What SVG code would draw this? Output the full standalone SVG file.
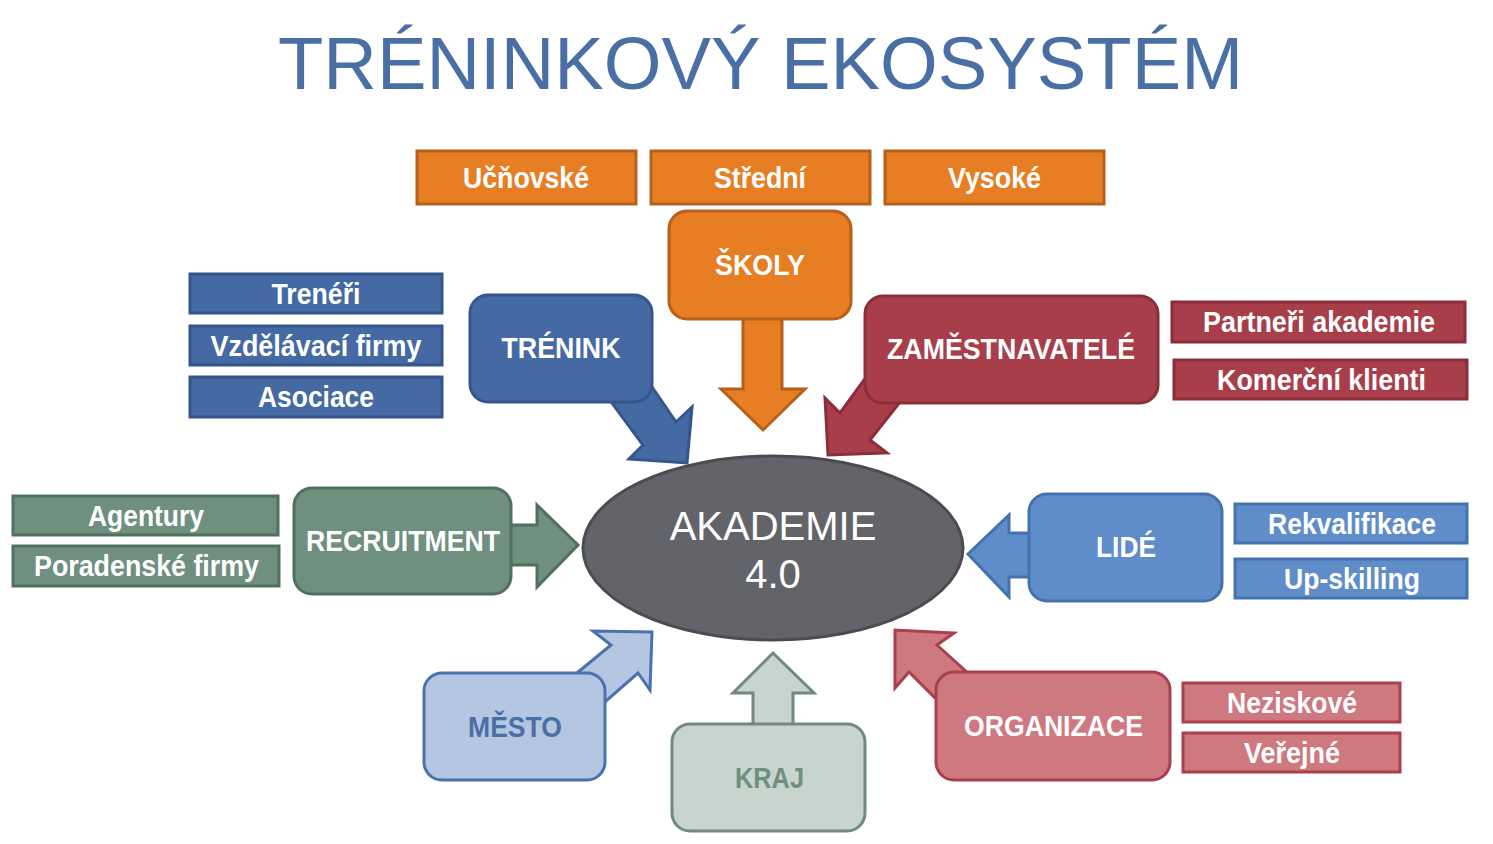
<svg xmlns="http://www.w3.org/2000/svg" width="1493" height="844" viewBox="0 0 1493 844">
<style>
.lbl{font-family:"Liberation Sans Narrow","Liberation Sans",Arial,sans-serif;font-weight:bold;font-size:29px;fill:#fff;text-anchor:middle}
.title{font-family:"Liberation Sans",Arial,sans-serif;font-size:74px;fill:#4A6FA5}
.big{font-family:"Liberation Sans",Arial,sans-serif;font-size:40px;fill:#fff;text-anchor:middle}
.or{fill:#E77E23;stroke:#B6601D;stroke-width:3}
.bl{fill:#4469A3;stroke:#34568A;stroke-width:3}
.rd{fill:#A73E4A;stroke:#8A2E39;stroke-width:3}
.gr{fill:#6F8F7F;stroke:#51705F;stroke-width:3}
.lb{fill:#5F8DC9;stroke:#4572AE;stroke-width:3}
.ms{fill:#B4C6E2;stroke:#4A72AC;stroke-width:3}
.kr{fill:#C8D5CF;stroke:#71897E;stroke-width:3}
.og{fill:#CE7880;stroke:#A8404D;stroke-width:3}
</style>
<text class="title" x="278" y="89" textLength="965" lengthAdjust="spacingAndGlyphs">TRÉNINKOVÝ EKOSYSTÉM</text>

<g id="connectors" stroke-linejoin="miter">
<polygon class="or" points="743,312 743,389 721,389 763,430 805,389 782,389 782,312"/>
<polygon class="bl" points="595,380 637,365 676,422 692,407 687,463 629,459 643,445"/>
<polygon class="rd" points="880,358 915,383 870,440 887,453 828,455 825,398 840,413"/>
<polygon class="gr" points="505,525 537,525 537,505 578,545 537,587 537,565 505,565"/>
<polygon class="lb" points="1035,533 1009,533 1009,515 968,554 1009,597 1009,577 1035,577"/>
<polygon class="ms" points="560,687 611,645 593,631 652,632 650,690 638,673 590,715"/>
<polygon class="kr" points="753,730 753,693 733,693 773,653 814,693 793,693 793,730"/>
<polygon class="og" points="950,713 909,672 895,688 895,630 954,633 937,645 980,684"/>
</g>

<g id="ucnovske"><rect class="or" x="417" y="151" width="219" height="53"/><text class="lbl" x="526" y="188" textLength="126" lengthAdjust="spacingAndGlyphs">Učňovské</text></g>
<g id="stredni"><rect class="or" x="651" y="151" width="219" height="53"/><text class="lbl" x="760" y="188" textLength="92" lengthAdjust="spacingAndGlyphs">Střední</text></g>
<g id="vysoke"><rect class="or" x="885" y="151" width="219" height="53"/><text class="lbl" x="994.5" y="188" textLength="93" lengthAdjust="spacingAndGlyphs">Vysoké</text></g>
<g id="skoly"><rect class="or" x="669" y="211" width="182" height="108" rx="18"/><text class="lbl" x="760" y="275" textLength="90" lengthAdjust="spacingAndGlyphs">ŠKOLY</text></g>

<g id="trenink"><rect class="bl" x="470" y="295" width="182" height="107" rx="18"/><text class="lbl" x="561" y="358" textLength="119" lengthAdjust="spacingAndGlyphs">TRÉNINK</text></g>
<g id="treneri"><rect class="bl" x="190" y="274" width="252" height="39"/><text class="lbl" x="316" y="304" textLength="89" lengthAdjust="spacingAndGlyphs">Trenéři</text></g>
<g id="vzdelavaci"><rect class="bl" x="190" y="326" width="252" height="39"/><text class="lbl" x="316" y="356" textLength="211" lengthAdjust="spacingAndGlyphs">Vzdělávací firmy</text></g>
<g id="asociace"><rect class="bl" x="190" y="377" width="252" height="40"/><text class="lbl" x="316" y="407" textLength="116" lengthAdjust="spacingAndGlyphs">Asociace</text></g>

<g id="zamestnavatele"><rect class="rd" x="865" y="296" width="293" height="107" rx="18"/><text class="lbl" x="1011" y="359" textLength="248" lengthAdjust="spacingAndGlyphs">ZAMĚSTNAVATELÉ</text></g>
<g id="partneri"><rect class="rd" x="1172" y="302" width="293" height="40"/><text class="lbl" x="1319" y="332" textLength="232" lengthAdjust="spacingAndGlyphs">Partneři akademie</text></g>
<g id="komercni"><rect class="rd" x="1174" y="360" width="293" height="39"/><text class="lbl" x="1321.5" y="390" textLength="209" lengthAdjust="spacingAndGlyphs">Komerční klienti</text></g>

<g id="akademie"><ellipse cx="773" cy="548" rx="190" ry="92" fill="#636469" stroke="#4B4C50" stroke-width="3"/><text class="big" x="773" y="540">AKADEMIE</text><text class="big" x="773" y="588">4.0</text></g>

<g id="recruitment"><rect class="gr" x="294" y="488" width="217" height="106" rx="18"/><text class="lbl" x="403" y="551" textLength="194" lengthAdjust="spacingAndGlyphs">RECRUITMENT</text></g>
<g id="agentury"><rect class="gr" x="13" y="496" width="265" height="39"/><text class="lbl" x="146" y="526" textLength="116" lengthAdjust="spacingAndGlyphs">Agentury</text></g>
<g id="poradenske"><rect class="gr" x="13" y="546" width="266" height="40"/><text class="lbl" x="146.5" y="576" textLength="225" lengthAdjust="spacingAndGlyphs">Poradenské firmy</text></g>

<g id="lide"><rect class="lb" x="1029" y="494" width="193" height="107" rx="18"/><text class="lbl" x="1126" y="557" textLength="60" lengthAdjust="spacingAndGlyphs">LIDÉ</text></g>
<g id="rekvalifikace"><rect class="lb" x="1235" y="504" width="232" height="39"/><text class="lbl" x="1352" y="534" textLength="168" lengthAdjust="spacingAndGlyphs">Rekvalifikace</text></g>
<g id="upskilling"><rect class="lb" x="1235" y="559" width="232" height="39"/><text class="lbl" x="1352" y="589" textLength="136" lengthAdjust="spacingAndGlyphs">Up-skilling</text></g>

<g id="mesto"><rect class="ms" x="424" y="673" width="181" height="107" rx="18"/><text class="lbl" x="515" y="737" textLength="94" lengthAdjust="spacingAndGlyphs" style="fill:#4A6FA5">MĚSTO</text></g>
<g id="kraj"><rect class="kr" x="672" y="724" width="193" height="107" rx="18"/><text class="lbl" x="769.5" y="788" textLength="69" lengthAdjust="spacingAndGlyphs" style="fill:#6F8F7F">KRAJ</text></g>
<g id="organizace"><rect class="og" x="936" y="672" width="234" height="108" rx="18"/><text class="lbl" x="1053.5" y="736" textLength="179" lengthAdjust="spacingAndGlyphs">ORGANIZACE</text></g>
<g id="neziskove"><rect class="og" x="1183" y="683" width="217" height="39"/><text class="lbl" x="1292" y="713" textLength="130" lengthAdjust="spacingAndGlyphs">Neziskové</text></g>
<g id="verejne"><rect class="og" x="1183" y="733" width="217" height="39"/><text class="lbl" x="1292" y="763" textLength="96" lengthAdjust="spacingAndGlyphs">Veřejné</text></g>
</svg>
